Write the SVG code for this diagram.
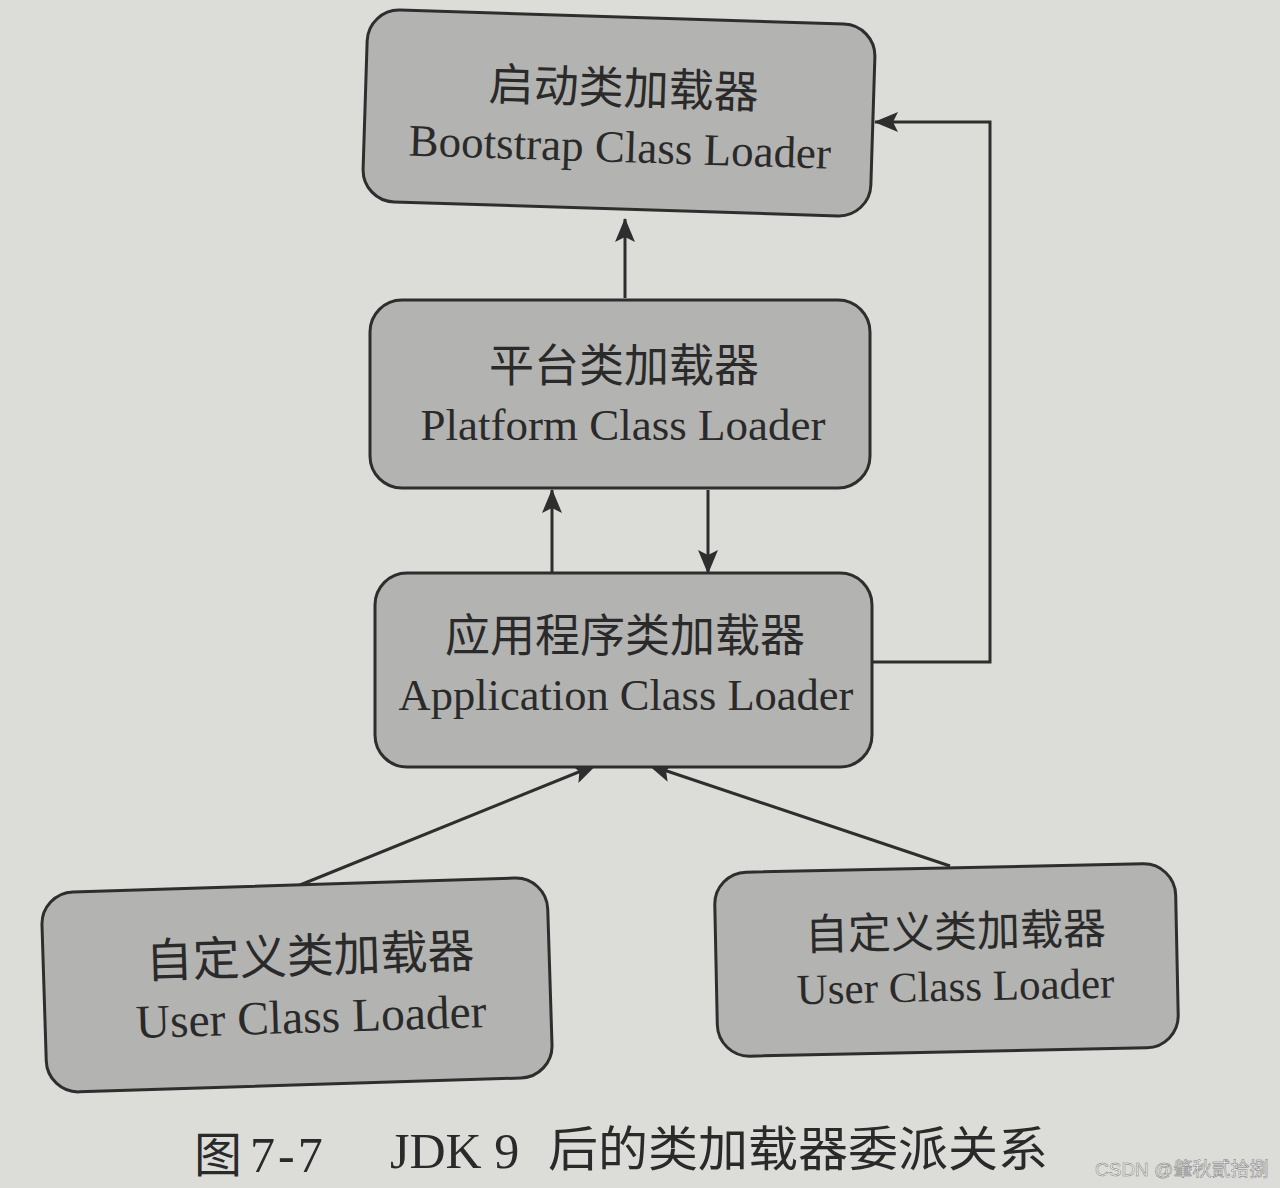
<svg xmlns="http://www.w3.org/2000/svg" width="1280" height="1188" viewBox="0 0 1280 1188">
<defs>
<style>
.bg{fill:#dcdcd9}
.node{fill:#b3b3b1;stroke:#2e2e2e;stroke-width:3}
.cjk{font-family:"Noto Sans CJK SC","Noto Sans",sans-serif;fill:#2a2a2a;text-anchor:middle}
.lat{font-family:"Liberation Serif","DejaVu Serif",serif;fill:#2a2a2a;text-anchor:middle}
.edge{fill:none;stroke:#2e2e2e;stroke-width:3}
.cap{font-family:"Liberation Serif","Noto Sans CJK SC",serif;fill:#2a2a2a;font-size:50px}
.capc{font-family:"Noto Sans CJK SC",sans-serif;fill:#2a2a2a;font-size:48px}
.wm{font-family:"Liberation Sans","Noto Sans CJK SC",sans-serif;fill:#f4f4f2;font-size:19px;stroke:#7a7a7a;stroke-width:0.5}
</style>
<marker id="ah" viewBox="0 0 24 20" refX="23" refY="10" markerWidth="24" markerHeight="20" markerUnits="userSpaceOnUse" orient="auto">
<path d="M0,0 L24,10 L0,20 L5,10 Z" fill="#2e2e2e"/>
</marker>
</defs>
<rect class="bg" x="0" y="0" width="1280" height="1188"/>
<g id="connectors">
<line class="edge" x1="625" y1="298" x2="625" y2="219" marker-end="url(#ah)"/>
<line class="edge" x1="552" y1="573" x2="552" y2="490" marker-end="url(#ah)"/>
<line class="edge" x1="708" y1="490" x2="708" y2="573" marker-end="url(#ah)"/>
<polyline class="edge" points="872,662 990,662 990,122 875,122" marker-end="url(#ah)"/>
<line class="edge" x1="300" y1="885" x2="596" y2="765" marker-end="url(#ah)"/>
<line class="edge" x1="950" y1="866" x2="649" y2="765" marker-end="url(#ah)"/>
</g>
<g id="bootstrap" transform="rotate(1.8 619 113)">
<rect class="node" x="365" y="17" width="508" height="192" rx="32"/>
<text class="cjk" x="623" y="104" font-size="45">启动类加载器</text>
<text class="lat" x="621" y="162" font-size="45">Bootstrap Class Loader</text>
</g>
<g id="platform">
<rect class="node" x="370" y="300" width="500" height="188" rx="32"/>
<text class="cjk" x="624" y="382" font-size="45">平台类加载器</text>
<text class="lat" x="623" y="440" font-size="45">Platform Class Loader</text>
</g>
<g id="application">
<rect class="node" x="375" y="573" width="497" height="194" rx="32"/>
<text class="cjk" x="625" y="652" font-size="45">应用程序类加载器</text>
<text class="lat" x="626" y="710" font-size="44.5">Application Class Loader</text>
</g>
<g id="user-left" transform="rotate(-1.8 296 985)">
<rect class="node" x="44" y="885" width="506" height="200" rx="32"/>
<text class="cjk" x="311" y="973" font-size="47">自定义类加载器</text>
<text class="lat" x="310" y="1033" font-size="47.5">User Class Loader</text>
</g>
<g id="user-right" transform="rotate(-1.2 946 960)">
<rect class="node" x="716" y="868" width="461" height="184" rx="32"/>
<text class="cjk" x="956" y="947" font-size="43">自定义类加载器</text>
<text class="lat" x="955" y="1001" font-size="43">User Class Loader</text>
</g>
<g id="caption">
<text class="capc" x="194" y="1172" font-size="46">图</text>
<text class="cap" x="250" y="1172" letter-spacing="3">7-7</text>
<text class="cap" x="390" y="1168">JDK 9</text>
<text class="capc" x="548" y="1166" textLength="500" lengthAdjust="spacingAndGlyphs">后的类加载器委派关系</text>
</g>
<text class="wm" x="1095" y="1176">CSDN @肇秋贰拾捌</text>
</svg>
